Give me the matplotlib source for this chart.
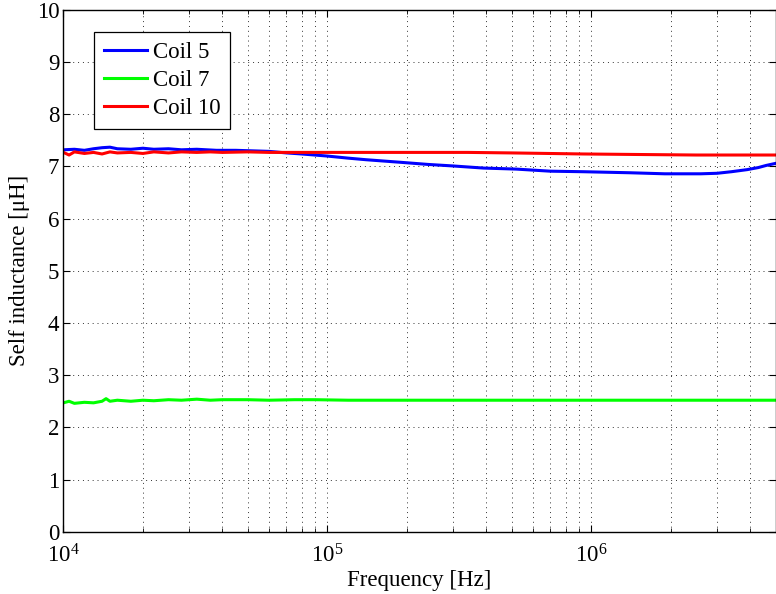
import matplotlib
matplotlib.use("Agg")
import matplotlib.pyplot as plt
from matplotlib.ticker import LogLocator, FixedLocator, NullFormatter

plt.rcParams["font.family"] = ["Liberation Serif", "DejaVu Serif"]
plt.rcParams["mathtext.fontset"] = "custom"
plt.rcParams["mathtext.rm"] = "Liberation Serif"
plt.rcParams["mathtext.it"] = "Liberation Serif:italic"

# Coil 5 (blue)
freq_c5 = [1.0e4, 1.1e4, 1.2e4, 1.3e4, 1.4e4, 1.5e4, 1.6e4, 1.8e4, 2.0e4, 2.2e4,
           2.5e4, 2.8e4, 3.2e4, 3.8e4, 4.5e4, 5.2e4, 6.0e4, 7.0e4, 8.0e4, 1.0e5,
           1.2e5, 1.4e5, 1.9e5, 2.4e5, 3.0e5, 3.9e5, 5.2e5, 7.0e5, 9.3e5, 1.4e6,
           1.9e6, 2.6e6, 3.0e6, 3.4e6, 3.9e6, 4.3e6, 4.6e6, 5.0e6]
l_c5 = [7.32, 7.33, 7.31, 7.34, 7.36, 7.37, 7.34, 7.33, 7.35, 7.33,
        7.34, 7.32, 7.33, 7.31, 7.31, 7.30, 7.29, 7.26, 7.24, 7.20,
        7.16, 7.13, 7.08, 7.04, 7.01, 6.97, 6.95, 6.91, 6.90, 6.88,
        6.86, 6.86, 6.87, 6.90, 6.94, 6.98, 7.02, 7.06]

# Coil 7 (green)
freq_c7 = [1.0e4, 1.05e4, 1.1e4, 1.2e4, 1.3e4, 1.4e4, 1.45e4, 1.5e4, 1.6e4, 1.8e4,
           2.0e4, 2.2e4, 2.5e4, 2.8e4, 3.2e4, 3.6e4, 4.0e4, 5.0e4, 6.0e4, 7.5e4,
           9.0e4, 1.2e5, 2.0e5, 5.0e5, 1.0e6, 2.0e6, 5.0e6]
l_c7 = [2.47, 2.50, 2.46, 2.48, 2.47, 2.50, 2.55, 2.50, 2.52, 2.50,
        2.52, 2.51, 2.53, 2.52, 2.54, 2.52, 2.53, 2.53, 2.52, 2.53,
        2.53, 2.52, 2.52, 2.52, 2.52, 2.52, 2.52]

# Coil 10 (red)
freq_c10 = [1.0e4, 1.05e4, 1.1e4, 1.2e4, 1.3e4, 1.4e4, 1.5e4, 1.6e4, 1.8e4, 2.0e4,
            2.2e4, 2.5e4, 2.8e4, 3.2e4, 3.6e4, 4.0e4, 5.0e4, 6.0e4, 8.0e4, 1.0e5,
            1.3e5, 2.0e5, 3.4e5, 5.0e5, 9.3e5, 1.5e6, 2.5e6, 5.0e6]
l_c10 = [7.27, 7.22, 7.28, 7.25, 7.27, 7.24, 7.28, 7.26, 7.27, 7.25,
         7.28, 7.26, 7.28, 7.27, 7.28, 7.27, 7.28, 7.27, 7.27, 7.27,
         7.27, 7.27, 7.27, 7.26, 7.24, 7.23, 7.22, 7.22]

x_lim = (1e4, 5e6)
y_lim = (0, 10)
y_ticks = list(range(0, 11))

FS = 16.5

fig = plt.figure(figsize=(7.76, 5.94), dpi=100)
ax = fig.add_axes([0.0818, 0.1049, 0.9178, 0.8783])

ax.plot(freq_c5, l_c5, color="#0000ff", lw=2.2, label="Coil 5")
ax.plot(freq_c7, l_c7, color="#00ff00", lw=2.2, label="Coil 7")
ax.plot(freq_c10, l_c10, color="#ff0000", lw=2.2, label="Coil 10")

ax.set_xscale("log")
ax.set_xlim(*x_lim)
ax.set_ylim(*y_lim)
ax.yaxis.set_major_locator(FixedLocator(y_ticks))
ax.xaxis.set_major_locator(LogLocator(base=10, numticks=10))
ax.xaxis.set_minor_locator(LogLocator(base=10, subs=range(2, 10), numticks=20))
ax.xaxis.set_minor_formatter(NullFormatter())

grid_style = dict(color="#333333", ls=(0, (1, 4)), lw=0.7)
ax.grid(True, which="major", axis="both", **grid_style)
ax.grid(True, which="minor", axis="x", **grid_style)

ax.tick_params(which="both", direction="in", top=True, right=True, labelsize=FS)
ax.tick_params(which="major", length=5, width=0.8)
ax.tick_params(which="minor", length=3, width=0.6)
ax.tick_params(axis="x", pad=9)
ax.tick_params(axis="y", pad=3)
for s in ax.spines.values():
    s.set_linewidth(1.0)

ax.set_xlabel("Frequency [Hz]", fontsize=FS, labelpad=2)
ax.set_ylabel("Self inductance [μH]", fontsize=FS, labelpad=5)

leg = ax.legend(loc="upper left", bbox_to_anchor=(0.043, 0.958), borderaxespad=0,
                fancybox=False, edgecolor="black", framealpha=1, fontsize=FS,
                handlelength=1.9, handletextpad=0.25, labelspacing=0.32,
                borderpad=0.42)
leg.get_frame().set_linewidth(0.9)

fig.savefig("out.png", dpi=100)
